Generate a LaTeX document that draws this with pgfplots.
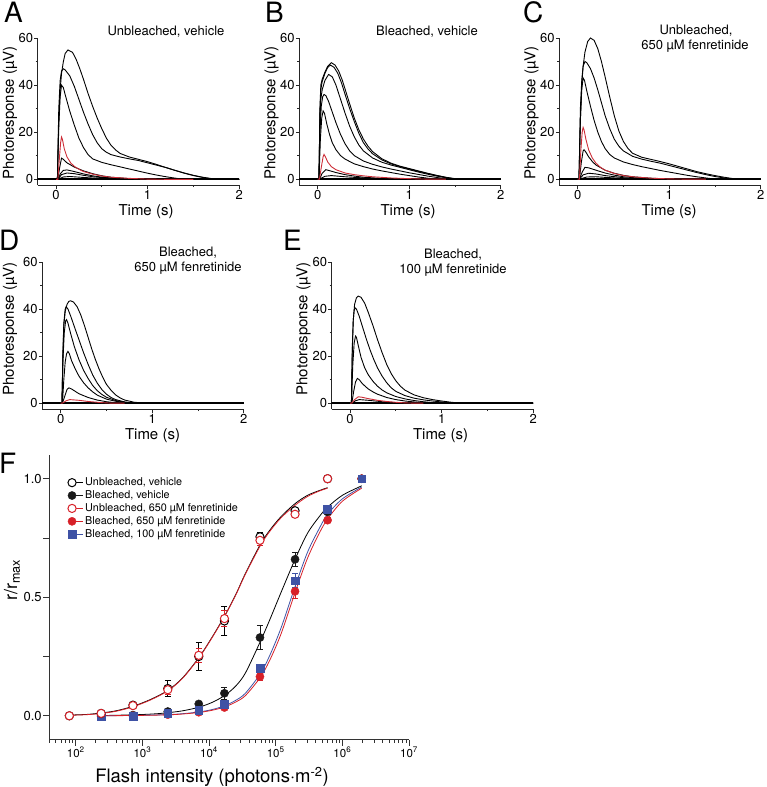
\documentclass[border=0pt]{standalone}
\usepackage{pgfplots}
\pgfplotsset{compat=1.18}
\usepackage{fontspec}
\setmainfont{TeX Gyre Heros}
\definecolor{tred}{RGB}{205,45,55}
\definecolor{fred}{RGB}{215,32,40}
\definecolor{fblue}{RGB}{62,82,165}
\pgfplotsset{
  trace/.style={
    scale only axis, width=201.5pt, height=147pt,
    xmin=-0.2, xmax=2, ymin=-2.5, ymax=60,
    axis lines=left, axis line style={-, line width=0.8pt, black!85},
    tick style={line width=0.8pt, black!85},
    tick align=outside,
    major tick length=3.5pt, minor tick length=2pt,
    xtick={0,1,2}, xticklabels={0,1,2}, minor xtick={0.5,1.5},
    ytick={0,20,40,60}, yticklabels={0,20,40,60}, minor ytick={10,30,50},
    ticklabel style={font=\fontsize{13}{13}\selectfont},
    yticklabel style={inner sep=1pt},
    xticklabel style={inner sep=1.5pt},
    clip=false,
  },
  tr/.style={black, line width=0.9pt},
  trr/.style={tred, line width=0.9pt},
  base/.style={black, line width=1.7pt},
}
\begin{document}
\begin{tikzpicture}
\path[use as bounding box] (0pt,0pt) rectangle (766pt,-787pt);

% ---------------- A ----------------
\begin{axis}[trace, at={(37.7pt,-185.2pt)}, anchor=south west]
\addplot[base] coordinates {(-0.2,0)(2,0)};
\addplot[tr] coordinates {(-0.2,0)(0.015,0)(0.03,25)(0.045,38)(0.06,45)(0.08,50)(0.1,53.5)(0.13,55)(0.18,54)(0.22,51)(0.26,47)(0.3,42.5)(0.35,36.5)(0.4,31)(0.45,26)(0.5,21.5)(0.55,17.5)(0.6,14.5)(0.65,12.5)(0.7,11)(0.8,9.5)(0.9,8.5)(1.0,7.5)(1.1,6.3)(1.2,5)(1.3,3.8)(1.4,2.7)(1.5,1.7)(1.6,0.9)(1.7,0.3)(1.8,0)(2,0)};
\addplot[tr] coordinates {(-0.2,0)(0.015,0)(0.03,30)(0.045,42)(0.06,46)(0.08,47)(0.1,46.5)(0.15,44)(0.2,39.5)(0.25,34)(0.3,28.5)(0.35,23.5)(0.4,19)(0.45,15.5)(0.5,13)(0.55,11.5)(0.6,10.5)(0.7,9.5)(0.8,8.7)(0.9,8)(1.0,7)(1.1,6)(1.2,5)(1.3,3.8)(1.4,2.6)(1.5,1.6)(1.6,0.8)(1.7,0.2)(1.8,0)(2,0)};
\addplot[tr] coordinates {(-0.2,0)(0.015,0)(0.03,22)(0.045,35)(0.06,40)(0.08,39)(0.1,36)(0.15,29)(0.2,23)(0.25,17.5)(0.3,13.5)(0.35,10.5)(0.4,8.7)(0.5,7.2)(0.6,6.2)(0.7,5.3)(0.8,4.4)(0.9,3.5)(1.0,2.6)(1.1,1.8)(1.2,1.1)(1.3,0.5)(1.4,0)(2,0)};
\addplot[tr] coordinates {(-0.2,0)(0.02,0)(0.04,5)(0.06,9)(0.08,8.5)(0.12,7)(0.2,5.2)(0.3,3.6)(0.4,2.4)(0.5,1.5)(0.6,0.9)(0.8,0.3)(1.0,0)(2,0)};
\addplot[tr] coordinates {(-0.2,0)(0.02,0)(0.05,2.5)(0.08,3.8)(0.12,4)(0.2,3.3)(0.3,2.3)(0.4,1.5)(0.5,0.9)(0.7,0.3)(0.9,0)(2,0)};
\addplot[tr] coordinates {(-0.2,0)(0.02,0)(0.06,2)(0.12,2.7)(0.2,2.4)(0.3,1.7)(0.4,1.1)(0.6,0.4)(0.8,0)(2,0)};
\addplot[tr] coordinates {(-0.2,0)(0.02,0)(0.08,1)(0.15,1.2)(0.3,0.8)(0.5,0.3)(0.7,0)(2,0)};
\addplot[trr] coordinates {(0,0)(0.02,0)(0.035,8)(0.05,15.5)(0.06,18)(0.07,17)(0.09,13)(0.12,9.5)(0.16,7)(0.2,5.5)(0.25,4.3)(0.3,3.3)(0.4,2.2)(0.5,1.4)(0.6,0.9)(0.8,0.4)(1.0,0.1)(1.2,0)(1.5,0)};
\end{axis}

% ---------------- B ----------------
\begin{axis}[trace, at={(299.3pt,-185pt)}, anchor=south west]
\addplot[base] coordinates {(-0.2,0)(2,0)};
\addplot[tr] coordinates {(-0.2,0)(0.015,0)(0.025,30)(0.035,40)(0.05,42.5)(0.08,45.5)(0.11,48)(0.15,49.5)(0.19,48.5)(0.23,46)(0.27,42)(0.31,37)(0.35,32)(0.4,26)(0.45,21)(0.5,17)(0.55,14)(0.6,11.7)(0.7,8.7)(0.8,6.8)(0.9,5.5)(1.0,4.5)(1.1,3.5)(1.2,2.5)(1.3,1.6)(1.4,0.8)(1.5,0.2)(1.6,0)(2,0)};
\addplot[tr] coordinates {(-0.2,0)(0.015,0)(0.025,28)(0.035,38)(0.05,41.5)(0.08,45)(0.11,47.5)(0.14,48.5)(0.18,47.5)(0.22,45)(0.26,41)(0.3,36)(0.35,30)(0.4,24.5)(0.45,19.5)(0.5,15.5)(0.55,12.8)(0.6,10.8)(0.7,8.2)(0.8,6.5)(0.9,5.3)(1.0,4.3)(1.1,3.3)(1.2,2.4)(1.3,1.5)(1.4,0.7)(1.5,0.1)(1.6,0)(2,0)};
\addplot[tr] coordinates {(-0.2,0)(0.015,0)(0.025,25)(0.035,34)(0.05,38)(0.08,42)(0.12,44.5)(0.16,43.5)(0.2,40)(0.25,34)(0.3,28)(0.35,22.5)(0.4,18)(0.45,14.5)(0.5,12)(0.6,9)(0.7,7.2)(0.8,6)(0.9,5)(1.0,4)(1.1,3)(1.2,2.1)(1.3,1.3)(1.4,0.6)(1.5,0)(2,0)};
\addplot[tr] coordinates {(-0.2,0)(0.015,0)(0.025,20)(0.04,31)(0.055,35)(0.07,36)(0.09,35.5)(0.12,33)(0.16,28.5)(0.2,24)(0.25,19)(0.3,15)(0.35,12)(0.4,10)(0.5,7.7)(0.6,6.3)(0.7,5.2)(0.8,4.3)(0.9,3.5)(1.0,2.7)(1.1,2)(1.2,1.3)(1.3,0.7)(1.4,0.2)(1.5,0)(2,0)};
\addplot[tr] coordinates {(-0.2,0)(0.015,0)(0.03,17)(0.045,26)(0.06,29)(0.075,28)(0.1,23.5)(0.13,19)(0.16,15.5)(0.2,12.5)(0.25,10)(0.3,8.5)(0.4,6.5)(0.5,5.3)(0.6,4.3)(0.7,3.5)(0.8,2.8)(0.9,2.1)(1.0,1.5)(1.1,0.9)(1.2,0.4)(1.3,0)(2,0)};
\addplot[tr] coordinates {(-0.2,0)(0.02,0)(0.05,2.5)(0.09,4)(0.13,3.6)(0.2,2.8)(0.3,1.9)(0.4,1.3)(0.5,0.8)(0.7,0.3)(0.9,0)(2,0)};
\addplot[tr] coordinates {(-0.2,0)(0.02,0)(0.08,1.2)(0.15,1.5)(0.3,1)(0.5,0.5)(0.8,0)(2,0)};
\addplot[trr] coordinates {(0,0)(0.02,0)(0.04,5)(0.06,9.5)(0.07,10.5)(0.085,9.5)(0.11,7.3)(0.15,5.3)(0.2,4)(0.3,2.6)(0.4,1.9)(0.5,1.4)(0.6,1)(0.8,0.5)(1.0,0.2)(1.2,0)(1.4,0)};
\end{axis}

% ---------------- C ----------------
\begin{axis}[trace, at={(559.3pt,-185pt)}, anchor=south west]
\addplot[base] coordinates {(-0.2,0)(2,0)};
\addplot[tr] coordinates {(-0.2,0)(0.015,0)(0.03,25)(0.045,40)(0.06,48)(0.08,54)(0.11,58.5)(0.14,60)(0.18,59)(0.22,55.5)(0.26,50)(0.3,43.5)(0.35,35)(0.4,27)(0.45,20.5)(0.5,16)(0.55,13)(0.6,11)(0.7,9.3)(0.8,8.4)(0.9,7.5)(1.0,6.5)(1.1,5.4)(1.2,4.3)(1.3,3.2)(1.4,2.3)(1.5,1.5)(1.6,0.8)(1.7,0.2)(1.8,0)(2,0)};
\addplot[tr] coordinates {(-0.2,0)(0.015,0)(0.03,30)(0.045,42)(0.06,48)(0.08,50)(0.1,49.5)(0.14,47)(0.18,43)(0.22,38)(0.26,32.5)(0.3,27)(0.35,21.5)(0.4,17)(0.45,14)(0.5,12)(0.6,9.7)(0.7,8.5)(0.8,7.6)(0.9,6.8)(1.0,5.8)(1.1,4.8)(1.2,3.8)(1.3,2.8)(1.4,1.9)(1.5,1.1)(1.6,0.5)(1.7,0)(2,0)};
\addplot[tr] coordinates {(-0.2,0)(0.015,0)(0.03,25)(0.045,38)(0.06,43)(0.075,42)(0.1,37.5)(0.14,31)(0.18,25)(0.22,20)(0.26,16)(0.3,13)(0.35,10.5)(0.4,9)(0.5,7.3)(0.6,6.2)(0.7,5.3)(0.8,4.5)(0.9,3.7)(1.0,3)(1.1,2.3)(1.2,1.6)(1.3,1)(1.4,0.5)(1.5,0)(2,0)};
\addplot[tr] coordinates {(-0.2,0)(0.02,0)(0.04,7)(0.06,12)(0.07,12.5)(0.09,11.5)(0.12,9.5)(0.16,7.5)(0.2,6)(0.3,3.8)(0.4,2.5)(0.5,1.6)(0.6,1)(0.8,0.4)(1.0,0)(2,0)};
\addplot[tr] coordinates {(-0.2,0)(0.02,0)(0.05,3)(0.08,5)(0.12,4.8)(0.2,3.8)(0.3,2.6)(0.4,1.7)(0.5,1)(0.7,0.3)(0.9,0)(2,0)};
\addplot[tr] coordinates {(-0.2,0)(0.02,0)(0.06,1.8)(0.12,2.5)(0.2,2.2)(0.3,1.5)(0.5,0.6)(0.7,0)(2,0)};
\addplot[tr] coordinates {(-0.2,0)(0.02,0)(0.1,0.9)(0.2,1)(0.4,0.5)(0.6,0)(2,0)};
\addplot[trr] coordinates {(0,0)(0.02,0)(0.035,12)(0.05,20)(0.06,22)(0.07,21)(0.09,17)(0.12,12.5)(0.16,9)(0.2,6.8)(0.25,5)(0.3,3.8)(0.4,2.4)(0.5,1.5)(0.6,1)(0.8,0.4)(1.0,0.1)(1.2,0)(1.4,0)};
\end{axis}

% ---------------- D ----------------
\begin{axis}[trace, at={(42.3pt,-409pt)}, anchor=south west]
\addplot[base] coordinates {(-0.2,0)(2,0)};
\addplot[tr] coordinates {(-0.2,0)(0.015,0)(0.025,20)(0.035,33)(0.05,39)(0.07,42)(0.09,43.3)(0.11,43.5)(0.14,43)(0.18,41)(0.22,37.5)(0.26,33)(0.3,28)(0.34,23)(0.38,18.5)(0.42,14.5)(0.46,11)(0.5,8)(0.55,5.5)(0.6,3.5)(0.65,2.2)(0.7,1.3)(0.8,0.4)(0.9,0)(2,0)};
\addplot[tr] coordinates {(-0.2,0)(0.015,0)(0.025,22)(0.035,34)(0.05,40)(0.06,41)(0.08,40)(0.11,37)(0.15,32.5)(0.2,27)(0.25,21.5)(0.3,16.5)(0.35,12)(0.4,8.5)(0.45,5.8)(0.5,3.8)(0.55,2.4)(0.6,1.5)(0.7,0.5)(0.8,0)(2,0)};
\addplot[tr] coordinates {(-0.2,0)(0.015,0)(0.025,18)(0.04,30)(0.055,35)(0.065,35.5)(0.08,34)(0.11,29.5)(0.15,24)(0.2,18.5)(0.25,14)(0.3,10.5)(0.35,7.5)(0.4,5.3)(0.45,3.7)(0.5,2.5)(0.6,1.1)(0.7,0.4)(0.8,0)(2,0)};
\addplot[tr] coordinates {(-0.2,0)(0.02,0)(0.035,10)(0.05,17.5)(0.065,21)(0.08,22)(0.095,21)(0.12,18)(0.16,14.5)(0.2,11.5)(0.25,8.7)(0.3,6.5)(0.35,4.8)(0.4,3.4)(0.5,1.7)(0.6,0.8)(0.7,0.3)(0.8,0)(2,0)};
\addplot[tr] coordinates {(-0.2,0)(0.02,0)(0.05,3.5)(0.07,5.8)(0.09,6.5)(0.12,6)(0.16,5)(0.2,4)(0.3,2.4)(0.4,1.3)(0.5,0.6)(0.6,0.2)(0.7,0)(2,0)};
\addplot[trr] coordinates {(0,0)(0.02,0)(0.06,1)(0.1,1.5)(0.2,1.2)(0.3,0.7)(0.45,0.2)(0.55,0)(0.7,0)};
\end{axis}

% ---------------- E ----------------
\begin{axis}[trace, at={(331.7pt,-409pt)}, anchor=south west]
\addplot[base] coordinates {(-0.2,0)(2,0)};
\addplot[tr] coordinates {(-0.2,0)(0.015,0)(0.025,22)(0.035,35)(0.05,42)(0.07,44.8)(0.09,45.5)(0.12,45)(0.16,42.5)(0.2,38.5)(0.25,33)(0.3,27)(0.35,21.5)(0.4,16.5)(0.45,12.5)(0.5,9.5)(0.55,7.2)(0.6,5.5)(0.7,3.5)(0.8,2.3)(0.9,1.5)(1.0,0.9)(1.1,0.4)(1.2,0)(2,0)};
\addplot[tr] coordinates {(-0.2,0)(0.015,0)(0.025,24)(0.035,35)(0.045,39.5)(0.055,40.5)(0.07,40)(0.1,37)(0.14,32)(0.18,27)(0.22,22.5)(0.26,18.5)(0.3,15)(0.35,11.5)(0.4,8.7)(0.45,6.5)(0.5,5)(0.6,3.2)(0.7,2.1)(0.8,1.4)(0.9,0.9)(1.0,0.5)(1.1,0.1)(1.2,0)(2,0)};
\addplot[tr] coordinates {(-0.2,0)(0.015,0)(0.03,16)(0.045,25.5)(0.06,28.5)(0.07,28)(0.09,24.5)(0.12,19.5)(0.16,15)(0.2,12)(0.25,9.3)(0.3,7.2)(0.35,5.6)(0.4,4.4)(0.5,2.8)(0.6,1.8)(0.7,1.1)(0.8,0.6)(0.9,0.2)(1.0,0)(2,0)};
\addplot[tr] coordinates {(-0.2,0)(0.02,0)(0.04,5)(0.06,9)(0.08,10.5)(0.1,10)(0.13,8.5)(0.17,7)(0.2,6)(0.25,4.8)(0.3,3.8)(0.4,2.4)(0.5,1.5)(0.6,0.9)(0.7,0.5)(0.8,0.2)(0.9,0)(2,0)};
\addplot[tr] coordinates {(-0.2,0)(0.02,0)(0.06,1)(0.1,1.5)(0.2,1.2)(0.35,0.6)(0.5,0.2)(0.6,0)(2,0)};
\addplot[trr] coordinates {(0,0)(0.02,0)(0.05,1.5)(0.09,2.7)(0.13,2.5)(0.2,1.9)(0.3,1.2)(0.4,0.7)(0.5,0.35)(0.6,0.1)(0.7,0)(0.8,0)};
\end{axis}

% ---------------- F ----------------
\begin{axis}[
  scale only axis, width=359.7pt, height=284.5pt,
  at={(49.3pt,-739.5pt)}, anchor=south west,
  xmode=log, xmin=40, xmax=1e7, ymin=-0.1, ymax=1.1,
  axis lines=left, axis line style={-, line width=0.9pt, black!80},
  tick style={line width=0.8pt, black!80}, tick align=outside,
  major tick length=6pt, minor tick length=3pt,
  xtick={100,1000,10000,100000,1000000,10000000},
  xticklabels={10\textsuperscript{2},10\textsuperscript{3},10\textsuperscript{4},10\textsuperscript{5},10\textsuperscript{6},10\textsuperscript{7}},
  minor xtick={40,50,60,70,80,90,200,300,400,500,600,700,800,900,2000,3000,4000,5000,6000,7000,8000,9000,20000,30000,40000,50000,60000,70000,80000,90000,200000,300000,400000,500000,600000,700000,800000,900000,2000000,3000000,4000000,5000000,6000000,7000000,8000000,9000000},
  ytick={0,0.25,0.5,0.75,1}, yticklabels={0.0,,0.5,,1.0},
  xticklabel style={font=\fontsize{11.5}{11.5}\selectfont, inner sep=1.5pt},
  yticklabel style={font=\fontsize{13}{13}\selectfont, inner sep=1.5pt},
  legend style={at={(0.051,0.927)}, anchor=north west, draw=none, fill=none,
    font=\fontsize{10.8}{11}\selectfont, row sep=-0.5pt, inner sep=0pt},
  legend cell align=left,
  legend image code/.code={\path (0pt,0pt) -- (15pt,0pt); \draw[#1] plot coordinates {(4pt,0pt)};},
  clip=false,
]
\addlegendimage{only marks, mark=*, mark size=4.1pt, black, mark options={fill=white, line width=1pt}}
\addlegendentry{Unbleached, vehicle}
\addlegendimage{only marks, mark=*, mark size=4.1pt, black!90}
\addlegendentry{Bleached, vehicle}
\addlegendimage{only marks, mark=*, mark size=4.1pt, fred, mark options={fill=white, line width=1pt}}
\addlegendentry{Unbleached, 650 µM fenretinide}
\addlegendimage{only marks, mark=*, mark size=4.1pt, fred}
\addlegendentry{Bleached, 650 µM fenretinide}
\addlegendimage{only marks, mark=square*, mark size=3.9pt, fblue}
\addlegendentry{Bleached, 100 µM fenretinide}

% fits
\addplot[forget plot, smooth, black, line width=0.8pt] coordinates {(80,0.003)(150,0.006)(240,0.012)(400,0.021)(720,0.040)(1300,0.068)(2400,0.107)(4000,0.160)(7000,0.245)(11000,0.33)(17000,0.42)(25000,0.51)(35000,0.60)(58000,0.72)(80000,0.78)(120000,0.84)(195000,0.895)(300000,0.93)(450000,0.95)(600000,0.962)};
\addplot[forget plot, smooth, fred, line width=0.8pt] coordinates {(80,0.002)(150,0.005)(240,0.010)(400,0.019)(720,0.038)(1300,0.066)(2400,0.105)(4000,0.158)(7000,0.243)(11000,0.328)(17000,0.418)(25000,0.508)(35000,0.597)(58000,0.715)(80000,0.775)(120000,0.835)(195000,0.888)(300000,0.925)(450000,0.948)(600000,0.96)};
\addplot[forget plot, smooth, black, line width=0.8pt] coordinates {(240,0.001)(720,0.004)(1500,0.008)(2400,0.013)(4000,0.021)(7000,0.036)(11000,0.056)(17000,0.085)(25000,0.125)(35000,0.18)(58000,0.31)(80000,0.40)(120000,0.52)(195000,0.66)(300000,0.77)(450000,0.84)(600000,0.88)(1000000,0.93)(1950000,0.97)};
\addplot[forget plot, smooth, fblue, line width=0.8pt] coordinates {(240,0.0005)(720,0.0015)(2400,0.005)(4000,0.009)(7000,0.016)(11000,0.026)(17000,0.042)(25000,0.065)(35000,0.095)(58000,0.175)(80000,0.25)(120000,0.37)(195000,0.545)(300000,0.69)(450000,0.79)(600000,0.85)(1000000,0.915)(1950000,0.965)};
\addplot[forget plot, smooth, fred, line width=0.8pt] coordinates {(240,0.0004)(720,0.0012)(2400,0.004)(4000,0.0075)(7000,0.014)(11000,0.023)(17000,0.037)(25000,0.058)(35000,0.085)(58000,0.16)(80000,0.23)(120000,0.345)(195000,0.52)(300000,0.665)(450000,0.77)(600000,0.83)(1000000,0.905)(1950000,0.96)};

% bleached vehicle (black filled)
\addplot[forget plot, only marks, mark=*, mark size=4.1pt, black!90,
  error bars/.cd, y dir=both, y explicit, error bar style={line width=0.8pt}, error mark options={rotate=90, mark size=3pt, line width=0.8pt}]
  table[row sep=\\, y error index=2] {x y e\\ 240 0.0 0\\ 720 0.003 0\\ 2400 0.018 0.005\\ 7000 0.05 0.01\\ 17000 0.095 0.025\\ 58000 0.33 0.05\\ 195000 0.66 0.03\\ 600000 0.86 0.01\\ 1950000 1.0 0\\};
% bleached 650 (red filled)
\addplot[forget plot, only marks, mark=*, mark size=4.1pt, fred,
  error bars/.cd, y dir=both, y explicit, error bar style={line width=0.8pt}, error mark options={rotate=90, mark size=3pt, line width=0.8pt}]
  table[row sep=\\, y error index=2] {x y e\\ 240 -0.003 0\\ 720 0.0 0\\ 2400 0.005 0\\ 7000 0.015 0.005\\ 17000 0.035 0.005\\ 58000 0.165 0.015\\ 195000 0.525 0.03\\ 600000 0.825 0.01\\ 1950000 1.0 0\\};
% bleached 100 (blue squares)
\addplot[forget plot, only marks, mark=square*, mark size=3.9pt, fblue,
  error bars/.cd, y dir=both, y explicit, error bar style={line width=0.8pt}, error mark options={rotate=90, mark size=3pt, line width=0.8pt}]
  table[row sep=\\, y error index=2] {x y e\\ 240 -0.003 0\\ 720 0.0 0\\ 2400 0.01 0\\ 7000 0.022 0.005\\ 17000 0.05 0.01\\ 58000 0.20 0.015\\ 195000 0.57 0.03\\ 600000 0.87 0.01\\ 1950000 1.0 0\\};
% unbleached vehicle (black open)
\addplot[forget plot, only marks, mark=*, mark size=4.1pt, black, mark options={fill=white, line width=1pt},
  error bars/.cd, y dir=both, y explicit, error bar style={line width=0.8pt}, error mark options={rotate=90, mark size=3pt, line width=0.8pt}]
  table[row sep=\\, y error index=2] {x y e\\ 80 0 0\\ 240 0.01 0.005\\ 720 0.045 0.007\\ 2400 0.115 0.035\\ 7000 0.25 0.06\\ 17000 0.40 0.06\\ 58000 0.755 0.02\\ 195000 0.865 0.01\\ 600000 1.0 0\\};
% unbleached 650 (red open)
\addplot[forget plot, only marks, mark=*, mark size=4.1pt, fred, mark options={fill=white, line width=1pt},
  error bars/.cd, y dir=both, y explicit, error bar style={line width=0.8pt}, error mark options={rotate=90, mark size=3pt, line width=0.8pt}]
  table[row sep=\\, y error index=2] {x y e\\ 80 0 0\\ 240 0.01 0\\ 720 0.043 0\\ 2400 0.11 0.02\\ 7000 0.255 0.03\\ 17000 0.41 0.035\\ 58000 0.74 0.02\\ 195000 0.85 0.01\\ 600000 1.0 0\\};
\end{axis}

% ---------------- text ----------------
\begin{scope}[every node/.style={inner sep=0pt}]
\node[anchor=base west, font=\fontsize{28}{28}\selectfont] at (4pt,-22pt) {A};
\node[anchor=base west, font=\fontsize{28}{28}\selectfont] at (265pt,-22pt) {B};
\node[anchor=base west, font=\fontsize{28}{28}\selectfont] at (523pt,-22pt) {C};
\node[anchor=base west, font=\fontsize{28}{28}\selectfont] at (-1pt,-250pt) {D};
\node[anchor=base west, font=\fontsize{28}{28}\selectfont] at (283pt,-250pt) {E};
\node[anchor=base west, font=\fontsize{28}{28}\selectfont] at (-1pt,-473pt) {F};

\node[anchor=base, font=\fontsize{13}{13}\selectfont] at (166pt,-35.4pt) {Unbleached, vehicle};
\node[anchor=base, font=\fontsize{13}{13}\selectfont] at (427pt,-35.4pt) {Bleached, vehicle};
\node[anchor=base, font=\fontsize{13}{13}\selectfont] at (696pt,-34.4pt) {Unbleached,};
\node[anchor=base, font=\fontsize{13}{13}\selectfont] at (695pt,-49.4pt) {650 µM fenretinide};
\node[anchor=base, font=\fontsize{13}{13}\selectfont] at (188pt,-256.4pt) {Bleached,};
\node[anchor=base, font=\fontsize{13}{13}\selectfont] at (188pt,-271.4pt) {650 µM fenretinide};
\node[anchor=base, font=\fontsize{13}{13}\selectfont] at (453pt,-258pt) {Bleached,};
\node[anchor=base, font=\fontsize{13}{13}\selectfont] at (453pt,-273pt) {100 µM fenretinide};

\node[rotate=90, font=\fontsize{15}{15}\selectfont] at (10pt,-113pt) {Photoresponse (µV)};
\node[rotate=90, font=\fontsize{15}{15}\selectfont] at (271.5pt,-113pt) {Photoresponse (µV)};
\node[rotate=90, font=\fontsize{15}{15}\selectfont] at (531.5pt,-113pt) {Photoresponse (µV)};
\node[rotate=90, font=\fontsize{15}{15}\selectfont] at (10pt,-329pt) {Photoresponse (µV)};
\node[rotate=90, font=\fontsize{15}{15}\selectfont] at (303.5pt,-329pt) {Photoresponse (µV)};

\node[font=\fontsize{15}{15}\selectfont] at (146pt,-212pt) {Time (s)};
\node[font=\fontsize{15}{15}\selectfont] at (408pt,-212pt) {Time (s)};
\node[font=\fontsize{15}{15}\selectfont] at (669pt,-212pt) {Time (s)};
\node[font=\fontsize{15}{15}\selectfont] at (152.5pt,-436pt) {Time (s)};
\node[font=\fontsize{15}{15}\selectfont] at (440.5pt,-436pt) {Time (s)};

\node[rotate=90, font=\fontsize{18}{18}\selectfont] at (12pt,-580pt) {r/r\textsubscript{max}};
\node[font=\fontsize{18.5}{18.5}\selectfont] at (212pt,-777pt) {Flash intensity (photons·m\textsuperscript{-2})};
\end{scope}
\end{tikzpicture}
\end{document}
